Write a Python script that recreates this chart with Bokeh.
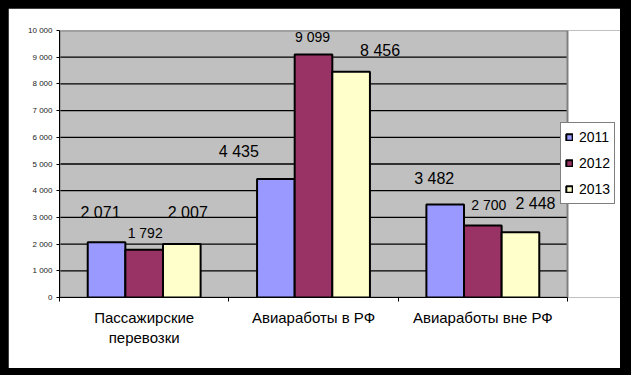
from bokeh.plotting import figure
from bokeh.models import Range1d, FixedTicker, ColumnDataSource, Legend, LegendItem
from bokeh.layouts import column
from bokeh.embed import file_html
from bokeh.resources import INLINE
from bokeh.core.properties import value

# ---- data ----
categories = ["Пассажирские\nперевозки", "Авиаработы в РФ", "Авиаработы вне РФ"]
years = ["2011", "2012", "2013"]
values_2011 = [2071, 4435, 3482]
values_2012 = [1792, 9099, 2700]
values_2013 = [2007, 8456, 2448]
y_ticks = [0, 1000, 2000, 3000, 4000, 5000, 6000, 7000, 8000, 9000, 10000]

series = [values_2011, values_2012, values_2013]
colors = ["#9999FF", "#993366", "#FFFFCC"]
# manual data-label placement (pixels) as in the original
label_dx = [[-6, -37, -11], [1, -1, 6], [6, 29, 15]]
label_dy = [[30, 28, 26], [17, 18, 20], [31, 21, 29]]
label_size = ["16px", "14px", "16px"]

FONT = "Liberation Sans"


def fmt(v):
    return f"{v:,}".replace(",", " ")


n = len(categories)
y_max = y_ticks[-1]
# frame extends to the right of the plot area to host the legend
p = figure(frame_width=561, frame_height=267, output_backend="svg", toolbar_location=None,
           x_range=Range1d(0, n * 561 / 508), y_range=Range1d(0, y_max),
           min_border_left=51, min_border_right=0, min_border_top=22,
           min_border_bottom=71)
p.background_fill_color = "white"
p.border_fill_color = "white"
p.outline_line_color = None

# plot area background
p.quad(left=[0], right=[n], bottom=[0], top=[y_max], fill_color="#C0C0C0",
       line_color=None, level="underlay")
# horizontal gridlines
p.segment(x0=[0] * (len(y_ticks) - 2), x1=[n] * (len(y_ticks) - 2),
          y0=y_ticks[1:-1], y1=y_ticks[1:-1], line_color="black", line_width=1.3)
# plot area border (grey)
p.quad(left=[0], right=[n], bottom=[0], top=[y_max], fill_color=None,
       line_color="#808080", line_width=2)

p.xgrid.grid_line_color = None
p.ygrid.grid_line_color = None

# y axis
p.yaxis.ticker = FixedTicker(ticks=y_ticks)
p.yaxis.major_label_overrides = {t: fmt(t) for t in y_ticks}
p.yaxis.major_label_text_font = FONT
p.yaxis.major_label_text_font_size = "8px"
p.yaxis.major_label_text_color = "#222222"
p.yaxis.major_tick_in = 0
p.yaxis.major_tick_out = 3
p.yaxis.minor_tick_line_color = None
p.yaxis.axis_line_color = "black"
p.yaxis.major_label_standoff = 4

# x axis: labels at category centres, ticks at boundaries
centers = [i + 0.5 for i in range(n)]
p.xaxis.bounds = (0, n)
p.xaxis.ticker = FixedTicker(ticks=centers, minor_ticks=list(range(n + 1)))
p.xaxis.major_label_overrides = {c: lab for c, lab in zip(centers, categories)}
p.xaxis.major_tick_line_color = None
p.xaxis.minor_tick_in = 0
p.xaxis.minor_tick_out = 4
p.xaxis.minor_tick_line_color = "black"
p.xaxis.axis_line_color = "black"
p.xaxis.major_label_text_font = FONT
p.xaxis.major_label_text_font_size = "15px"
p.xaxis.major_label_text_color = "black"
p.xaxis.major_label_standoff = 5

bw = 1 / 4.5
offsets = [-bw, 0, bw]
items = []
for k, (vals, col, yr) in enumerate(zip(series, colors, years)):
    src = ColumnDataSource(dict(
        x=[c + offsets[k] for c in centers],
        top=vals,
        label=[fmt(v) for v in vals],
        dx=label_dx[k],
        dy=[-d for d in label_dy[k]],
    ))
    r = p.vbar(x="x", top="top", width=bw, source=src, fill_color=col,
               line_color="black", line_width=2)
    p.text(x="x", y="top", text="label", source=src, x_offset="dx", y_offset="dy",
           text_align="center", text_baseline="middle",
           text_font=value(FONT), text_font_size=label_size[k], text_color="black")
    items.append(LegendItem(label=yr, renderers=[r]))

legend = Legend(items=items, location=(501, 93))
legend.label_text_font = FONT
legend.label_text_font_size = "14px"
legend.label_text_color = "black"
legend.glyph_width = 8
legend.glyph_height = 8
legend.label_standoff = 6
legend.label_height = 20
legend.spacing = 6
legend.padding = 4
legend.margin = 0
legend.border_line_color = "black"
legend.border_line_width = 1
legend.background_fill_color = "white"
legend.background_fill_alpha = 1
p.add_layout(legend)

layout = column(p, styles={"background-color": "black", "padding": "8px 11px 7px 8px"})

open("out.html", "w").write(file_html(layout, INLINE))
